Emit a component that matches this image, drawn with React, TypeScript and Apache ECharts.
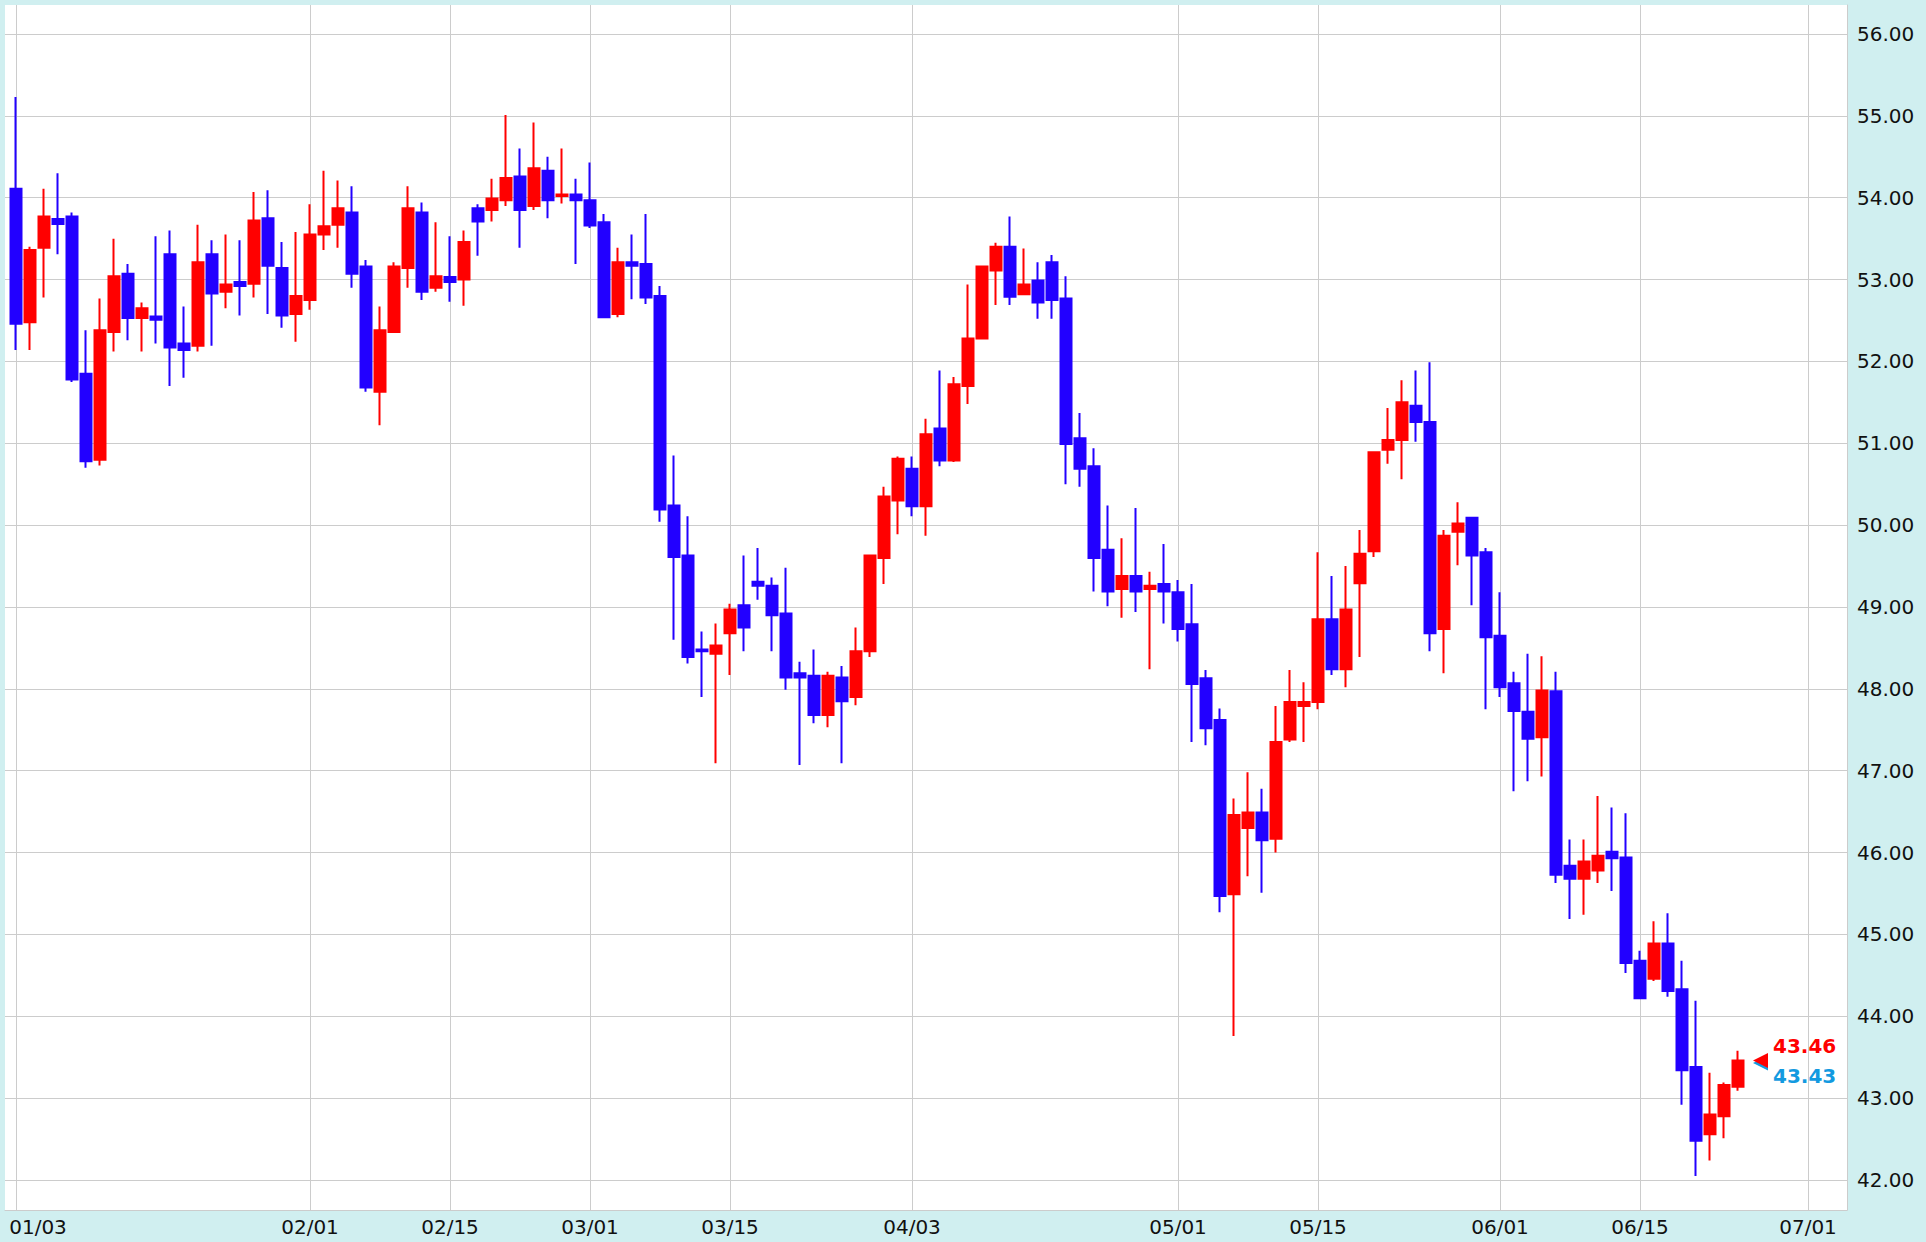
import React, { useEffect, useRef } from "react";
import * as echarts from "echarts";

// Trading dates (2023), one candle each
const dates = [
  "01/03","01/04","01/05","01/06","01/09","01/10","01/11","01/12","01/13","01/16","01/17","01/18","01/19","01/20","01/23","01/24","01/25","01/26","01/27","01/30","01/31",
  "02/01","02/02","02/03","02/06","02/07","02/08","02/09","02/10","02/13","02/14","02/15","02/16","02/17","02/20","02/21","02/22","02/23","02/24","02/27","02/28",
  "03/01","03/02","03/03","03/06","03/07","03/08","03/09","03/10","03/13","03/14","03/15","03/16","03/17","03/20","03/21","03/22","03/23","03/24","03/27","03/28","03/29","03/30","03/31",
  "04/03","04/04","04/05","04/06","04/10","04/11","04/12","04/13","04/14","04/17","04/18","04/19","04/20","04/21","04/24","04/25","04/26","04/27","04/28",
  "05/01","05/02","05/03","05/04","05/05","05/08","05/09","05/10","05/11","05/12","05/15","05/16","05/17","05/18","05/19","05/22","05/23","05/24","05/25","05/26","05/29","05/30","05/31",
  "06/01","06/02","06/05","06/06","06/07","06/08","06/09","06/12","06/13","06/14","06/15","06/16","06/19","06/20","06/21","06/22","06/23","06/26",
];
// Empty future slots on the axis
const futureDates = ["06/27","06/28","06/29","06/30","07/01","07/02","07/03"];

const opens = [
  54.11,52.48,53.39,53.74,53.77,51.85,50.80,52.36,53.07,52.53,
  52.55,53.31,52.22,52.19,53.31,52.85,52.97,52.95,53.75,53.14,
  52.58,52.75,53.55,53.67,53.82,53.16,51.63,52.36,53.14,53.82,
  52.90,53.03,53.00,53.87,53.85,53.97,54.26,53.90,54.33,54.02,
  54.04,53.97,53.70,52.58,53.21,53.19,52.80,50.24,49.63,48.48,
  48.43,48.68,49.02,49.31,49.26,48.92,48.19,48.16,47.68,48.14,
  47.90,48.46,49.60,50.30,50.69,50.23,51.18,50.79,51.70,52.28,
  53.11,53.40,52.82,52.99,53.21,52.77,51.06,50.72,49.70,49.22,
  49.38,49.22,49.28,49.18,48.79,48.13,47.62,45.49,46.30,46.49,
  46.17,47.38,47.79,47.84,48.85,48.24,49.29,49.68,50.92,51.04,
  51.46,51.26,48.73,49.92,50.09,49.67,48.65,48.07,47.72,47.41,
  47.97,45.84,45.68,45.78,46.01,45.94,44.68,44.46,44.89,44.33,
  43.38,42.56,42.78,43.14,
];
const closes = [
  52.46,53.36,53.77,53.68,51.78,50.78,52.38,53.04,52.53,52.65,
  52.51,52.17,52.14,53.21,52.83,52.94,52.92,53.72,53.17,52.56,
  52.80,53.55,53.65,53.87,53.07,51.68,52.38,53.16,53.87,52.85,
  53.04,52.97,53.46,53.71,53.99,54.24,53.85,54.36,53.97,54.04,
  53.97,53.66,52.54,53.21,53.17,52.78,50.19,49.61,48.39,48.46,
  48.53,48.97,48.75,49.26,48.90,48.14,48.14,47.68,48.16,47.85,
  48.46,49.63,50.35,50.81,50.23,51.11,50.79,51.72,52.28,53.16,
  53.40,52.79,52.94,52.72,52.75,50.99,50.69,49.60,49.19,49.38,
  49.19,49.26,49.19,48.73,48.06,47.52,45.47,46.46,46.49,46.15,
  47.35,47.84,47.84,48.85,48.24,48.97,49.65,50.89,51.04,51.50,
  51.26,48.68,49.87,50.02,49.63,48.63,48.02,47.73,47.39,47.98,
  45.73,45.68,45.89,45.96,45.93,44.65,44.22,44.89,44.31,43.34,
  42.48,42.80,43.16,43.46,
];
const lows = [
  52.14,52.14,52.78,53.31,51.75,50.70,50.73,52.12,52.26,52.12,
  52.22,51.70,51.80,52.12,52.19,52.65,52.56,52.78,52.58,52.41,
  52.24,52.63,53.36,53.39,52.90,51.63,51.22,52.35,52.90,52.75,
  52.85,52.73,52.68,53.29,53.71,53.90,53.39,53.85,53.75,53.93,
  53.19,53.63,52.53,52.54,52.76,52.70,50.04,48.60,48.31,47.90,
  47.09,48.17,48.46,49.09,48.46,47.99,47.07,47.58,47.53,47.09,
  47.80,48.39,49.28,49.89,50.11,49.87,50.72,50.77,51.48,52.27,
  52.69,52.69,52.81,52.52,52.52,50.50,50.47,49.19,49.01,48.87,
  48.94,48.24,48.80,48.58,47.35,47.31,45.27,43.76,45.71,45.51,
  46.00,47.35,47.35,47.75,48.17,48.02,48.39,49.61,50.75,50.56,
  51.02,48.46,48.19,49.51,49.02,47.75,47.90,46.75,46.87,46.93,
  45.63,45.19,45.24,45.63,45.53,44.53,44.21,44.43,44.24,42.92,
  42.05,42.24,42.51,43.09,
];
const highs = [
  55.23,53.40,54.11,54.30,53.82,52.38,52.77,53.50,53.19,52.72,
  53.53,53.60,52.67,53.67,53.48,53.55,53.48,54.07,54.09,53.46,
  53.58,53.92,54.33,54.21,54.14,53.24,52.67,53.21,54.14,53.94,
  53.70,53.53,53.60,53.92,54.23,55.01,54.60,54.92,54.50,54.60,
  54.23,54.43,53.80,53.39,53.55,53.80,52.92,50.85,50.11,48.70,
  48.80,49.04,49.63,49.72,49.36,49.48,48.33,48.48,48.21,48.28,
  48.75,49.64,50.47,50.84,50.84,51.30,51.89,51.81,52.94,53.17,
  53.45,53.77,53.38,53.21,53.30,53.04,51.37,50.94,50.24,49.84,
  50.21,49.43,49.77,49.33,49.28,48.23,47.76,46.66,46.98,46.78,
  47.79,48.23,48.08,49.67,49.38,49.50,49.94,50.90,51.43,51.77,
  51.89,51.99,49.94,50.28,50.10,49.72,49.18,48.21,48.43,48.40,
  48.21,46.16,46.16,46.69,46.55,46.48,44.80,45.16,45.26,44.68,
  44.19,43.31,43.19,43.58,
];

const tickDates = ["01/03","02/01","02/15","03/01","03/15","04/03","05/01","05/15","06/01","06/15","07/01"];
const lastPrice = 43.46;
const refPrice = 43.43;

const Y_MIN = 41.634;
const Y_MAX = 56.354;

const FONT = '"DejaVu Sans", Verdana, sans-serif';
const GRID_COLOR = "#cccccc";
const UP = "#ff0000";
const DOWN = "#2200ff";
const REF_BLUE = "#139ae0";
const BG = "#d0eff0";

export default function App() {
  const ref = useRef<HTMLDivElement>(null);

  useEffect(() => {
    const el = ref.current;
    if (!el) return;
    const chart = echarts.init(el, null, { renderer: "svg" });
    const allDates = dates.concat(futureDates);
    const candleData = dates.map((_, i) => [opens[i], closes[i], lows[i], highs[i]]);
    const showTick = (idx: number) => tickDates.indexOf(allDates[idx]) >= 0;

    chart.setOption({
      animation: false,
      backgroundColor: BG,
      grid: [
        { left: 5, top: 5, right: 79, bottom: 32, show: true, backgroundColor: "#ffffff", borderWidth: 0, containLabel: false, outerBoundsMode: "none" },
        { left: 16, top: 5, width: 1820, bottom: 32, containLabel: false, outerBoundsMode: "none" },
      ],
      xAxis: [
        {
          type: "value", gridIndex: 0, min: 0, max: 1,
          axisLine: { show: true, onZero: false, lineStyle: { color: GRID_COLOR, width: 1 } },
          axisTick: { show: false }, axisLabel: { show: false }, splitLine: { show: false },
        },
        {
          type: "category", gridIndex: 1, data: allDates, boundaryGap: false,
          axisLine: { show: false }, axisTick: { show: false },
          splitLine: { show: true, interval: (i: number) => showTick(i), lineStyle: { color: GRID_COLOR, width: 1 } },
          axisLabel: {
            interval: (i: number) => showTick(i),
            margin: 7, fontSize: 20, fontFamily: FONT, color: "#111",
            formatter: (value: string, index: number) => (index === 0 ? `{first|${value}}` : value),
            rich: { first: { padding: [0, 0, 0, 44], fontSize: 20, fontFamily: FONT, color: "#111" } },
          },
        },
      ],
      yAxis: [
        {
          type: "value", gridIndex: 0, position: "right", min: Y_MIN, max: Y_MAX,
          minInterval: 1, maxInterval: 1, splitNumber: 14,
          axisLine: { show: true, onZero: false, lineStyle: { color: GRID_COLOR, width: 1 } },
          axisTick: { show: false },
          axisLabel: {
            margin: 10, fontSize: 20, fontFamily: FONT, color: "#111",
            showMinLabel: false, showMaxLabel: false,
            formatter: (v: number) => v.toFixed(2),
          },
          splitLine: { show: true, showMinLine: false, showMaxLine: false, lineStyle: { color: GRID_COLOR, width: 1 } },
        },
        { type: "value", gridIndex: 1, min: Y_MIN, max: Y_MAX, show: false, splitLine: { show: false } },
      ],
      series: [
        {
          type: "candlestick", xAxisIndex: 1, yAxisIndex: 1, data: candleData,
          barWidth: 12, clip: false,
          itemStyle: { color: UP, color0: DOWN, borderColor: UP, borderColor0: DOWN, borderWidth: 2 },
        },
      ],
    });

    const p = chart.convertToPixel({ gridIndex: 1 }, [dates.length, lastPrice]) as number[];
    const pr = chart.convertToPixel({ gridIndex: 1 }, [dates.length, refPrice]) as number[];
    const x = p[0] + 1;
    const y = p[1];
    const yr = pr[1];
    chart.setOption({
      graphic: [
        { type: "polygon", z: 100, shape: { points: [[x, yr], [x + 15, yr - 7.5], [x + 15, yr + 7.5]] }, style: { fill: REF_BLUE } },
        { type: "polygon", z: 101, shape: { points: [[x, y], [x + 15, y - 7.5], [x + 15, y + 7.5]] }, style: { fill: UP } },
        { type: "text", z: 101, x: x + 20, y: y - 15, style: { text: lastPrice.toFixed(2), fill: UP, fontSize: 20, fontWeight: "bold", fontFamily: FONT, align: "left", verticalAlign: "middle" } },
        { type: "text", z: 101, x: x + 20, y: y + 15, style: { text: refPrice.toFixed(2), fill: REF_BLUE, fontSize: 20, fontWeight: "bold", fontFamily: FONT, align: "left", verticalAlign: "middle" } },
      ],
    });

    return () => chart.dispose();
  }, []);

  return (
    <div
      ref={ref}
      style={{ position: "fixed", left: 0, top: 0, width: 1926, height: 1242, background: BG }}
    />
  );
}
